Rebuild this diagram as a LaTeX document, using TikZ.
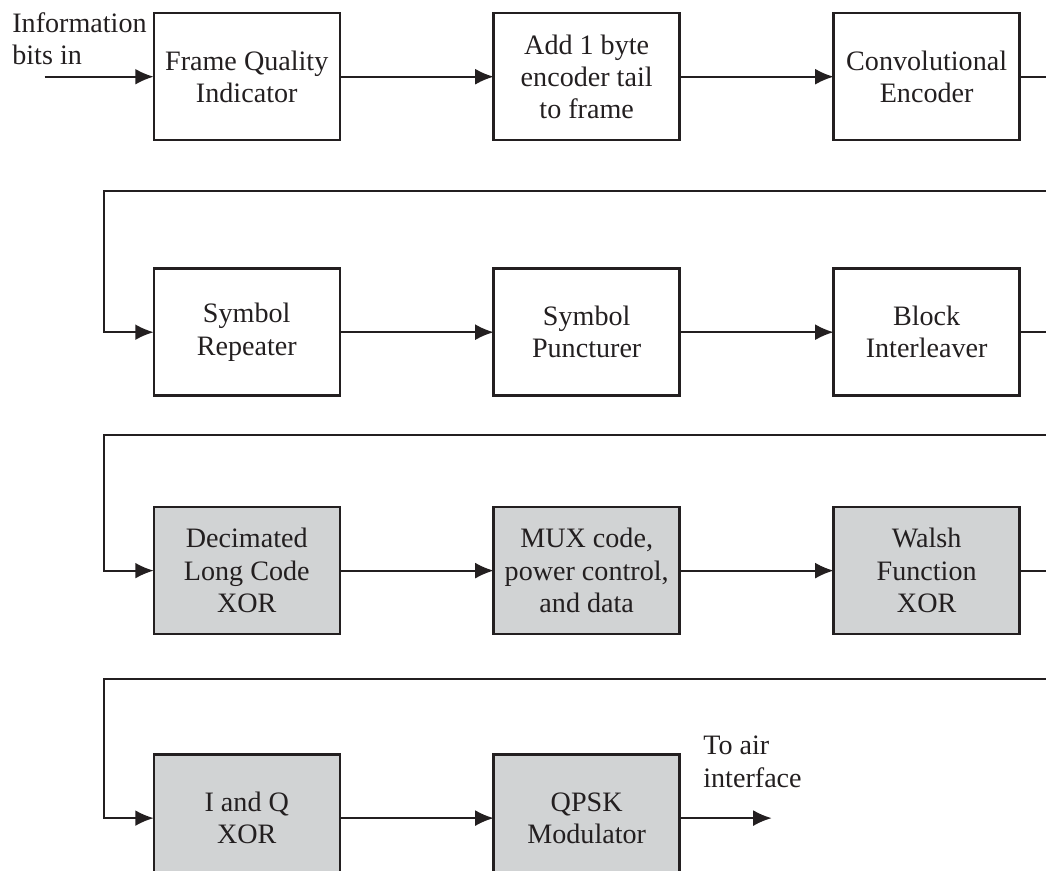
\documentclass[tikz,border=0pt]{standalone}
\usepackage{fontspec}
\setmainfont{Liberation Serif}
\usetikzlibrary{matrix, arrows.meta}
\definecolor{boxgray}{HTML}{D1D3D4}
\definecolor{ink}{HTML}{231F20}
\tikzset{>={Latex[length=10.5pt, width=9pt]}}

\begin{document}
\begin{tikzpicture}[
  font=\fontsize{16}{18.4}\selectfont,
  every node/.style={text=ink},
  blk/.style={draw=ink, line width=1.4pt, minimum width=3.72cm, minimum height=2.54cm, align=center, inner sep=2pt},
  shaded/.style={blk, fill=boxgray},
  flow/.style={draw=ink, line width=1.1pt, ->}]
\useasboundingbox (0,0) rectangle (20.92,-17.42);
% transmit chain, read row by row
\matrix[inner sep=0pt, outer sep=0pt, column sep=3.03cm, row sep=2.18cm, anchor=north west] (chain) at (3.05,-0.24)
{
\node[blk] (fqi) {Frame Quality\\Indicator}; &
\node[blk] (tail) {Add 1 byte\\encoder tail\\to frame}; &
\node[blk] (conv) {Convolutional\\Encoder}; \\[0.34cm]
\node[blk] (rep) {Symbol\\Repeater}; &
\node[blk] (punc) {Symbol\\Puncturer}; &
\node[blk] (intl) {Block\\Interleaver}; \\
\node[shaded] (lcode) {Decimated\\Long Code\\XOR}; &
\node[shaded] (mux) {MUX code,\\power control,\\and data}; &
\node[shaded] (walsh) {Walsh\\Function\\XOR}; \\[0.18cm]
\node[shaded] (iq) {I and Q\\XOR}; &
\node[shaded] (qpsk) {QPSK\\Modulator}; & \\
};
\node[align=left, anchor=north west, inner sep=0pt] (infolbl) at (0.24,-0.24) {Information\\bits in};
\node[align=left, anchor=north west, inner sep=0pt] (airlbl) at (14.06,-14.72) {To air\\interface};
\coordinate (bitsin) at ([xshift=-2.18cm]fqi.west);
\coordinate (airout) at ([xshift=1.84cm]qpsk.east);
% wrap-around lines, the right turn is off the page
\coordinate (r1) at (21.4,-3.82);  \coordinate (l1) at (2.08,-3.82);
\coordinate (r2) at (21.4,-8.70);  \coordinate (l2) at (2.08,-8.70);
\coordinate (r3) at (21.4,-13.58); \coordinate (l3) at (2.08,-13.58);
\path
(bitsin) edge[flow] (fqi)
(fqi)    edge[flow] (tail)
(tail)   edge[flow] (conv)
(rep)    edge[flow] (punc)
(punc)   edge[flow] (intl)
(lcode)  edge[flow] (mux)
(mux)    edge[flow] (walsh)
(iq)     edge[flow] (qpsk)
(qpsk)   edge[flow] (airout);
\draw[flow] (conv.east) -| (r1) -- (l1) |- (rep.west);
\draw[flow] (intl.east) -| (r2) -- (l2) |- (lcode.west);
\draw[flow] (walsh.east) -| (r3) -- (l3) |- (iq.west);
\end{tikzpicture}
\end{document}
